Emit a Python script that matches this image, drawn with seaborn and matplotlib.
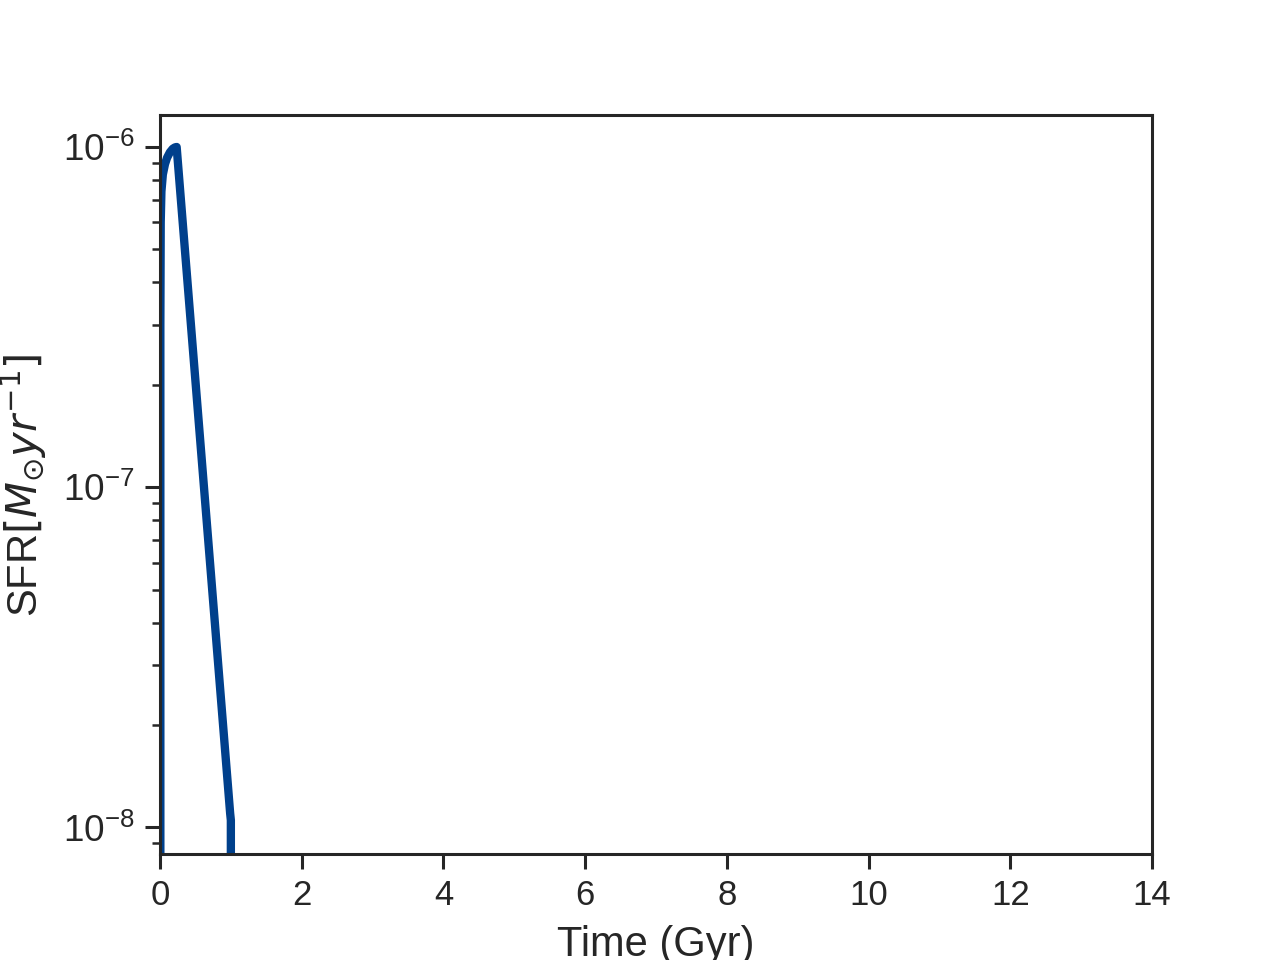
import matplotlib
matplotlib.use("Agg")
import matplotlib.pyplot as plt
import seaborn as sns
import numpy as np

# Data
time_gyr = [0.0, 0.005, 0.01, 0.02, 0.04, 0.07, 0.10, 0.14, 0.18, 0.21, 0.235, 0.99, 1.0, 1.001, 14.0]
sfr = [0.0, 3.0e-7, 6.0e-7, 7.4e-7, 8.3e-7, 8.9e-7, 9.3e-7, 9.65e-7, 9.88e-7, 9.97e-7, 1.0e-6, 1.1e-8, 1.05e-8, 0.0, 0.0]
xticks = [0, 2, 4, 6, 8, 10, 12, 14]

sns.set_style("ticks")
plt.rcParams['font.family'] = ['Liberation Sans', 'DejaVu Sans']

fig, ax = plt.subplots(figsize=(6.4, 4.8), dpi=200)
ax.set_yscale('log')
sns.lineplot(x=time_gyr, y=sfr, ax=ax, color="#00408c", linewidth=3.0, estimator=None, sort=False)
ax.set_xlim(0, 14)
ax.set_ylim(8.33e-9, 1.24e-6)
ax.set_xticks(xticks)
ax.set_xlabel("Time (Gyr)", fontsize=15, labelpad=4.5)
ax.set_ylabel(r"SFR$[M_{\odot} yr^{-1}]$", fontsize=15, labelpad=5)
ax.tick_params(axis='x', which='major', labelsize=12.5)
ax.tick_params(axis='y', which='major', labelsize=13.3)
ax.tick_params(axis='both', which='major', length=5.5, width=1.1)
ax.tick_params(axis='both', which='minor', length=2.8, width=0.9)
for s in ax.spines.values():
    s.set_linewidth(1.1)
    s.set_color("#262626")
fig.savefig("out.png", dpi=200)
